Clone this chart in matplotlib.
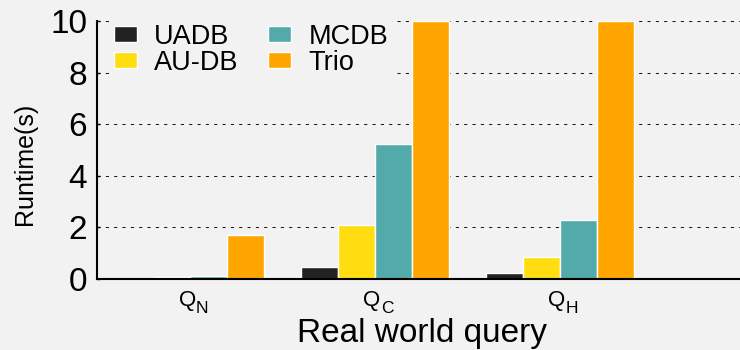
import matplotlib.pyplot as plt
import matplotlib.transforms as mtrans
import numpy as np

query_subs = ['N', 'C', 'H']
systems = ['UADB', 'AU-DB', 'MCDB', 'Trio']
uadb = [0.0, 0.47, 0.25]
audb = [0.08, 2.09, 0.85]
mcdb = [0.12, 5.23, 2.29]
trio = [1.72, 10.0, 10.0]
colors = ['#222222', '#ffdd11', '#53aaaa', '#ffa500']

plt.rcParams['font.family'] = ['Liberation Sans', 'DejaVu Sans']
bg = '#f2f2f2'

fig = plt.figure(figsize=(7.4, 3.5), dpi=100, facecolor=bg)
ax = fig.add_axes([97/740, 1 - 279/350, 643/740, 258/350], facecolor=bg)

x = np.arange(len(query_subs))
w = 0.2
for i, (vals, name) in enumerate(zip([uadb, audb, mcdb, trio], systems)):
    ax.bar(x + (i - 1.5) * w, vals, w, color=colors[i], edgecolor='white',
           linewidth=1, label=name, zorder=2)

ax.set_xlim(-0.506, 2.975)
ax.set_ylim(0, 10)
ax.set_yticks([0, 2, 4, 6, 8, 10])
ax.set_xticks(x)
ax.set_xticklabels([''] * len(x))
ax.tick_params(axis='y', labelsize=24, direction='in', length=2.5, width=1, pad=7)
ax.tick_params(axis='x', length=0)
ax.yaxis.grid(True, linestyle=(0, (3, 5)), color='0.1', linewidth=0.75, zorder=0)
ax.set_axisbelow(True)
for s in ['top', 'right']:
    ax.spines[s].set_visible(False)
for s in ['left', 'bottom']:
    ax.spines[s].set_linewidth(1.5)
    ax.spines[s].set_zorder(3)

# query names: Q with a large subscript
trans = mtrans.offset_copy(ax.get_xaxis_transform(), fig=fig, x=4, y=0, units='points')
for xi, sub in zip(x, query_subs):
    ax.text(xi, -0.105, 'Q', transform=trans, ha='right', va='baseline', fontsize=16)
    ax.text(xi, -0.132, sub, transform=trans, ha='left', va='baseline', fontsize=12.5)

ax.set_ylabel('Runtime(s)', fontsize=18)
ax.yaxis.set_label_coords(-0.093, 0.446)
ax.set_xlabel('Real world query', fontsize=24)
ax.xaxis.set_label_coords(0.505, -0.152)

leg = ax.legend(ncol=2, loc='upper left', bbox_to_anchor=(0.018, 1.01), fontsize=19.5,
                frameon=True, facecolor=bg, edgecolor=bg, framealpha=1,
                handlelength=0.85, handleheight=0.52, columnspacing=1.1,
                labelspacing=0.0, handletextpad=0.63, borderpad=0.2,
                borderaxespad=0)
leg.get_frame().set_linewidth(0)

fig.savefig('out.png', dpi=100, facecolor=bg)
